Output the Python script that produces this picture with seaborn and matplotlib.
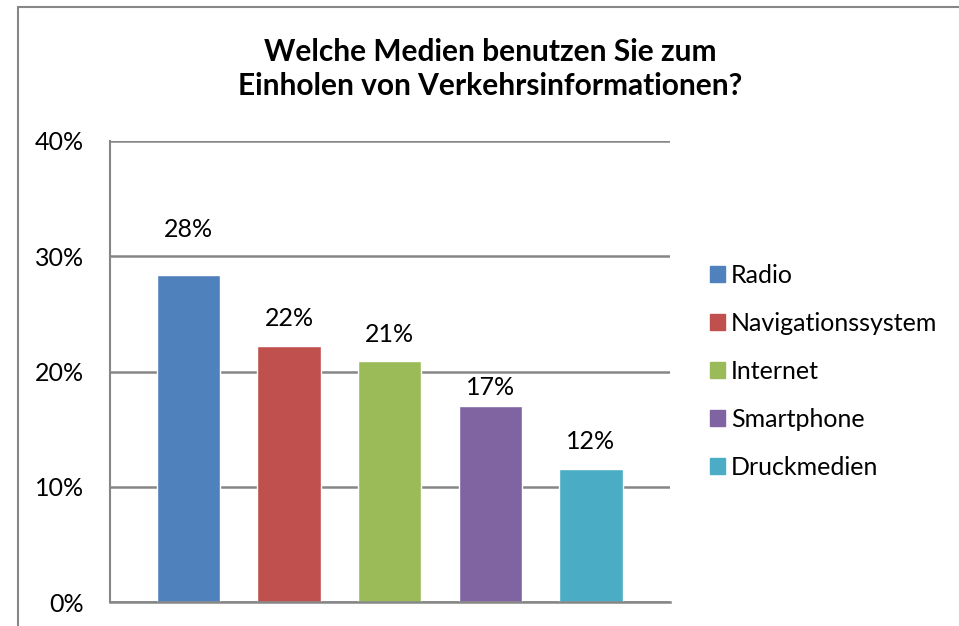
import pandas as pd
import seaborn as sns
import matplotlib.pyplot as plt
from matplotlib.patches import Rectangle
from matplotlib.ticker import FuncFormatter

# Survey answers (share of respondents, %)
medien = ["Radio", "Navigationssystem", "Internet", "Smartphone", "Druckmedien"]
anteil = [28.4, 22.2, 20.9, 17.0, 11.5]
farben = ["#4F81BD", "#C0504D", "#9BBB59", "#8064A2", "#4BACC6"]
y_ticks = [0, 10, 20, 30, 40]

# label gap above each bar (points) - the original labels are not evenly placed
label_pad = [24.5, 11.5, 11, 5, 12]

df = pd.DataFrame({"Medium": medien, "Anteil": anteil})

sns.set_theme(style="white")
plt.rcParams["font.family"] = ["Lato", "DejaVu Sans"]
plt.rcParams["text.color"] = "black"

fig = plt.figure(figsize=(9.59, 6.26), dpi=100)
ax = fig.add_axes([110 / 959, 24 / 626, 560 / 959, 461 / 626])

sns.barplot(data=df, x="Medium", y="Anteil", hue="Medium", palette=farben,
            width=0.63, saturation=1, legend=False, ax=ax)

ax.set_ylim(0, 40)
ax.set_xlim(-0.78, 4.786)
ax.set_yticks(y_ticks)
ax.yaxis.set_major_formatter(FuncFormatter(lambda v, p: f"{v:.0f}%"))
ax.set_xticks([])
ax.set_xlabel("")
ax.set_ylabel("")
ax.tick_params(axis="y", labelsize=18, pad=19, length=0, colors="black")

ax.grid(axis="y", color="#868686", linewidth=1.8)
ax.set_axisbelow(True)
for side in ["top", "right"]:
    ax.spines[side].set_visible(False)
ax.spines["left"].set_color("#868686")
ax.spines["left"].set_linewidth(1.5)
ax.spines["bottom"].set_color("#868686")
ax.spines["bottom"].set_linewidth(1.8)

for cont, pad in zip(ax.containers, label_pad):
    ax.bar_label(cont, labels=[f"{v:.0f}%" for v in cont.datavalues],
                 padding=pad, fontsize=18, color="black")

# legend
handles = [Rectangle((0, 0), 1, 1, color=c) for c in farben]
fig.legend(handles, medien, loc="upper left", bbox_to_anchor=(687 / 959, 1 - 241 / 626),
           frameon=False, fontsize=18, handlelength=0.6, handleheight=0.6,
           handletextpad=0.25, labelspacing=1.0, labelcolor="black")

fig.text(490 / 959, 1 - 69 / 626, "Welche Medien benutzen Sie zum\nEinholen von Verkehrsinformationen?",
         ha="center", va="center", fontsize=21.5, fontweight="bold", linespacing=1.3,
         color="black")

# outer chart border
fig.patches.append(Rectangle((18 / 959, -0.2), 1.2, 1.2 - 7 / 626, transform=fig.transFigure,
                             fill=False, edgecolor="#878787", linewidth=1.5))

fig.savefig("out.png", dpi=100)
